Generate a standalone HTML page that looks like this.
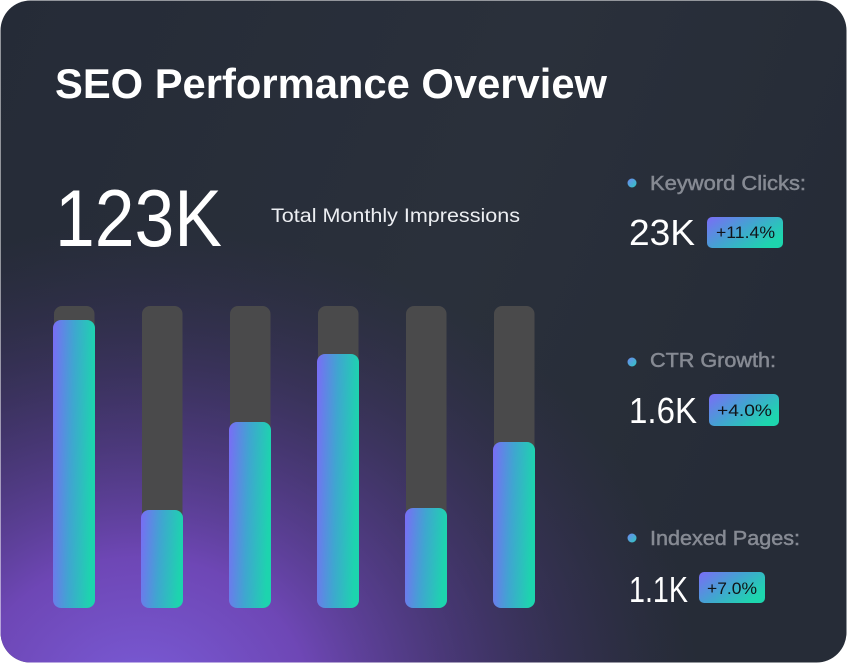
<!DOCTYPE html>
<html><head><meta charset="utf-8"><style>
html,body{margin:0;padding:0;background:#fff;}
svg{display:block;}
text{font-family:"Liberation Sans",sans-serif;}
</style></head><body>
<svg width="848" height="664" viewBox="0 0 848 664" xmlns="http://www.w3.org/2000/svg">
<defs>
<clipPath id="card"><rect x="0.5" y="0.5" width="846" height="662" rx="30"/></clipPath>
<linearGradient id="base" x1="0" y1="0" x2="1" y2="0.3">
<stop offset="0" stop-color="#252b37"/><stop offset="0.6" stop-color="#2a303b"/><stop offset="1" stop-color="#262c37"/>
</linearGradient>
<radialGradient id="glow" cx="140" cy="700" r="560" gradientUnits="userSpaceOnUse" gradientTransform="translate(140 700) scale(1.0 0.85) translate(-140 -700)">
<stop offset="0" stop-color="#7a5cd8" stop-opacity="1"/>
<stop offset="0.3" stop-color="#7449c0" stop-opacity="0.92"/>
<stop offset="0.6" stop-color="#5a3c98" stop-opacity="0.55"/>
<stop offset="1" stop-color="#3a2f60" stop-opacity="0"/>
</radialGradient>
<linearGradient id="bar" x1="0" y1="0" x2="1" y2="0.15">
<stop offset="0" stop-color="#7a6cf6"/><stop offset="0.5" stop-color="#3fa6d0"/><stop offset="1" stop-color="#1dd4ae"/>
</linearGradient>
<linearGradient id="badge" x1="0" y1="0" x2="1" y2="0.6">
<stop offset="0" stop-color="#7b6cf6"/><stop offset="0.5" stop-color="#44a2d2"/><stop offset="1" stop-color="#1dd6ae"/>
</linearGradient>
<linearGradient id="dot" x1="0" y1="0" x2="1" y2="1">
<stop offset="0" stop-color="#6f86f0"/><stop offset="1" stop-color="#2fc8c0"/>
</linearGradient>
</defs>
<g clip-path="url(#card)">
<rect x="0" y="0" width="848" height="664" fill="url(#base)"/>
<rect x="0" y="0" width="848" height="664" fill="url(#glow)"/>
</g>

<text x="55" y="98" font-size="42" font-weight="bold" fill="#ffffff" textLength="552" lengthAdjust="spacingAndGlyphs">SEO Performance Overview</text>
<text x="55" y="246" font-size="81" fill="#ffffff" textLength="167" lengthAdjust="spacingAndGlyphs">123K</text>
<text x="271" y="222" font-size="19" fill="#eceef2" textLength="249" lengthAdjust="spacingAndGlyphs">Total Monthly Impressions</text>

<g fill="#4a4a4b">
<rect x="54" y="306" width="40.5" height="302" rx="8"/>
<rect x="142" y="306" width="40.5" height="302" rx="8"/>
<rect x="230" y="306" width="40.5" height="302" rx="8"/>
<rect x="318" y="306" width="40.5" height="302" rx="8"/>
<rect x="406" y="306" width="40.5" height="302" rx="8"/>
<rect x="494" y="306" width="40.5" height="302" rx="8"/>
</g>
<rect x="53" y="320" width="42" height="288" rx="8" fill="url(#bar)"/>
<rect x="141" y="510" width="42" height="98" rx="8" fill="url(#bar)"/>
<rect x="229" y="422" width="42" height="186" rx="8" fill="url(#bar)"/>
<rect x="317" y="354" width="42" height="254" rx="8" fill="url(#bar)"/>
<rect x="405" y="508" width="42" height="100" rx="8" fill="url(#bar)"/>
<rect x="493" y="442" width="42" height="166" rx="8" fill="url(#bar)"/>

<circle cx="632" cy="183" r="4.5" fill="url(#dot)"/>
<text x="650" y="190" font-size="20.5" fill="#868a93" stroke="#868a93" stroke-width="0.5" textLength="156" lengthAdjust="spacingAndGlyphs">Keyword Clicks:</text>
<text x="629" y="245" font-size="36" fill="#ffffff" textLength="66" lengthAdjust="spacingAndGlyphs">23K</text>
<rect x="707" y="217" width="76" height="31" rx="5" fill="url(#badge)"/>
<text x="716" y="238" font-size="17" fill="#111418" textLength="59" lengthAdjust="spacingAndGlyphs">+11.4%</text>

<circle cx="632" cy="362" r="4.5" fill="url(#dot)"/>
<text x="650" y="367" font-size="20.5" fill="#868a93" stroke="#868a93" stroke-width="0.5" textLength="126" lengthAdjust="spacingAndGlyphs">CTR Growth:</text>
<text x="629" y="423" font-size="36" fill="#ffffff" textLength="68" lengthAdjust="spacingAndGlyphs">1.6K</text>
<rect x="709" y="394" width="70" height="32" rx="5" fill="url(#badge)"/>
<text x="717" y="416" font-size="17" fill="#111418" textLength="55" lengthAdjust="spacingAndGlyphs">+4.0%</text>

<circle cx="632" cy="538" r="4.5" fill="url(#dot)"/>
<text x="650" y="545" font-size="20.5" fill="#868a93" stroke="#868a93" stroke-width="0.5" textLength="150" lengthAdjust="spacingAndGlyphs">Indexed Pages:</text>
<text x="629" y="602" font-size="36" fill="#ffffff" textLength="59" lengthAdjust="spacingAndGlyphs">1.1K</text>
<rect x="699" y="572" width="66" height="31" rx="5" fill="url(#badge)"/>
<text x="707" y="594" font-size="17" fill="#111418" textLength="50" lengthAdjust="spacingAndGlyphs">+7.0%</text>
</svg>
</body></html>
